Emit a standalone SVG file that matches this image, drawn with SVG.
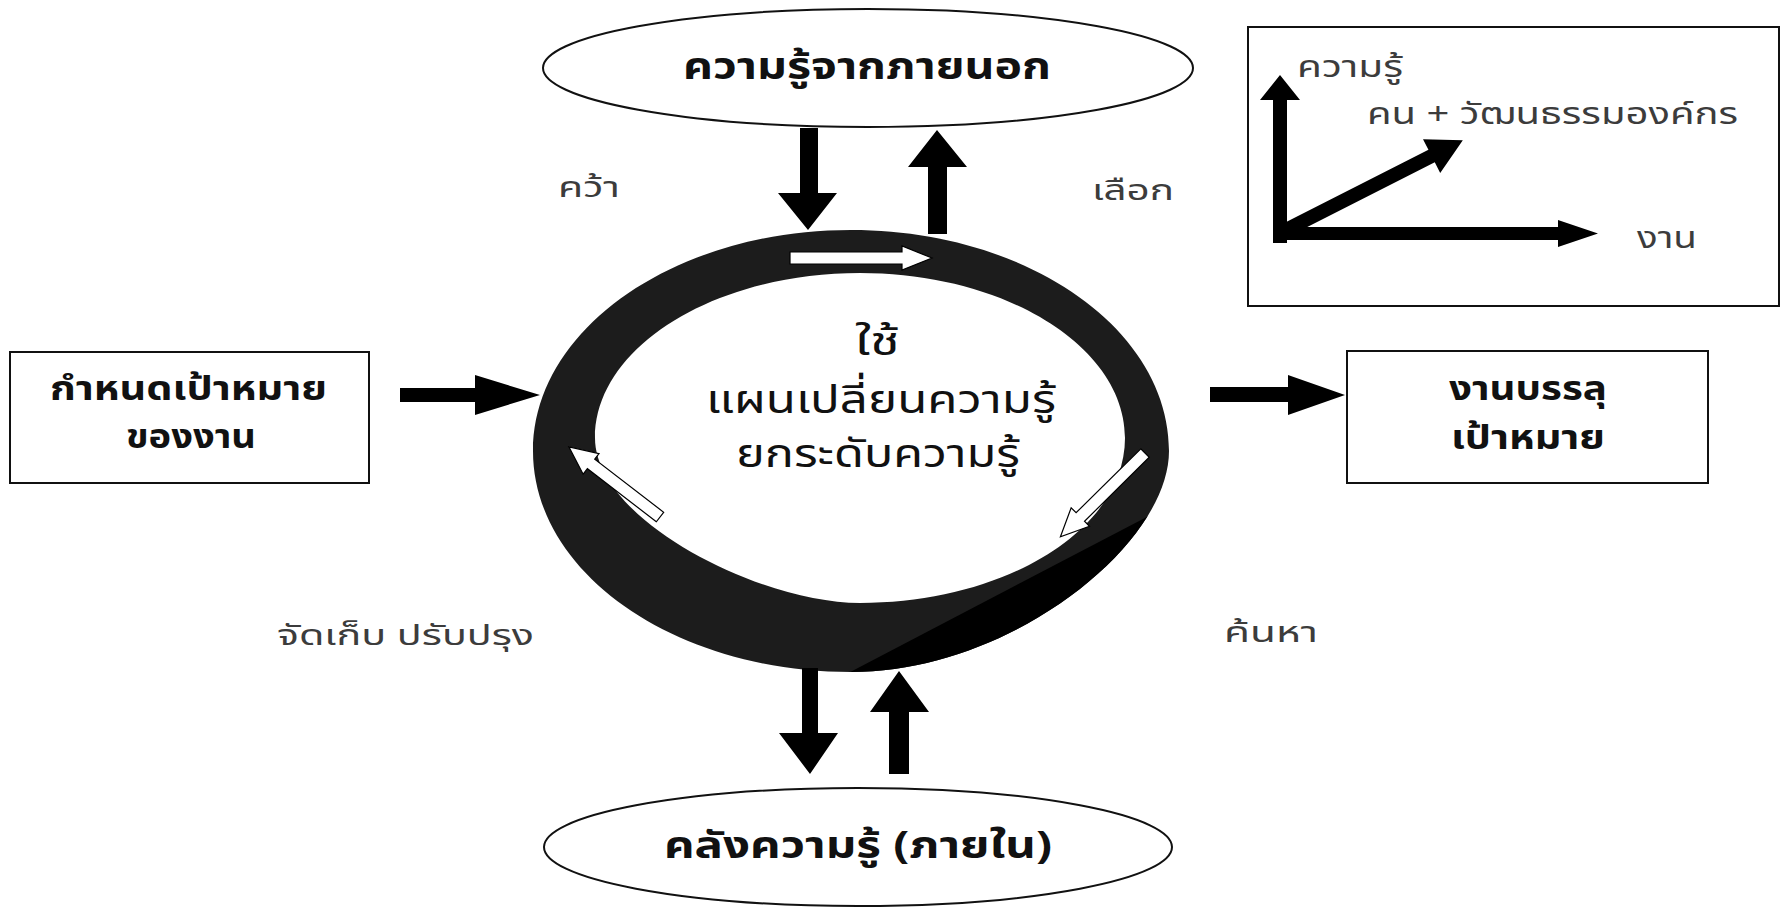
<svg xmlns="http://www.w3.org/2000/svg" width="1783" height="907" viewBox="0 0 1783 907">
<style>
.t{font-family:'Noto Sans Thai','Noto Sans','DejaVu Sans',sans-serif}
.title{font-size:37px;font-weight:bold;fill:#111}
.box{font-size:34px;font-weight:bold;fill:#111}
.mid{font-size:40px;fill:#111}
.lbl{font-size:29px;fill:#3c3c3c}
.ins{font-size:30px;fill:#3c3c3c}
.shape{fill:#fff;stroke:#111;stroke-width:2}
.arr{fill:#000}
.warr{fill:#fff;stroke:#000;stroke-width:1.2}
</style>
<defs>
<path id="ringpath" d="M533,451 C533,329 675,230 851,230 C1027,230 1169,329 1169,451 C1169,545 1010,672 851,672 C675,672 533,573 533,451 Z M595,438 C595,347 714,273 860,273 C1006,273 1125,347 1125,438 C1125,529 1006,603 860,603 C760,603 595,520 595,438 Z"/>
<clipPath id="ringclip">
<use href="#ringpath" clip-rule="evenodd"/>
</clipPath>
</defs>
<rect width="1783" height="907" fill="#fff"/>

<g id="ring">
<use href="#ringpath" fill="#1c1c1c" fill-rule="evenodd"/>
<polygon points="800,720 835,680 1160,510 1200,510 1200,720" fill="#000" clip-path="url(#ringclip)"/>
<polygon class="warr" points="790,252 902,252 902,246 932,258 902,270 902,264 790,264"/>
<polygon class="warr" points="0,-6 87,-6 87,-13 115,0 87,13 87,6 0,6" transform="translate(660,517) rotate(-142.4)"/>
<polygon class="warr" points="0,-6 91,-6 91,-13 119,0 91,13 91,6 0,6" transform="translate(1145,453) rotate(135.3)"/>
<text class="t mid" x="855" y="355" textLength="45" lengthAdjust="spacingAndGlyphs">ใช้</text>
<text class="t mid" x="706" y="413" textLength="350" lengthAdjust="spacingAndGlyphs">แผนเปลี่ยนความรู้</text>
<text class="t mid" x="736" y="467" textLength="284" lengthAdjust="spacingAndGlyphs">ยกระดับความรู้</text>
</g>

<g id="top-ellipse">
<ellipse class="shape" cx="868" cy="68" rx="325" ry="59"/>
<text class="t title" x="683" y="79" textLength="368" lengthAdjust="spacingAndGlyphs">ความรู้จากภายนอก</text>
</g>

<g id="bottom-ellipse">
<ellipse class="shape" cx="858" cy="847" rx="314" ry="59"/>
<text class="t title" x="664" y="858" textLength="388" lengthAdjust="spacingAndGlyphs">คลังความรู้ (ภายใน)</text>
</g>

<g id="left-box">
<rect class="shape" x="10" y="352" width="359" height="131"/>
<text class="t box" x="50" y="400" textLength="277" lengthAdjust="spacingAndGlyphs">กำหนดเป้าหมาย</text>
<text class="t box" x="126" y="448" textLength="130" lengthAdjust="spacingAndGlyphs">ของงาน</text>
</g>

<g id="right-box">
<rect class="shape" x="1347" y="351" width="361" height="132"/>
<text class="t box" x="1449" y="400" textLength="158" lengthAdjust="spacingAndGlyphs">งานบรรลุ</text>
<text class="t box" x="1451" y="449" textLength="154" lengthAdjust="spacingAndGlyphs">เป้าหมาย</text>
</g>

<g id="inset">
<rect class="shape" x="1248" y="27" width="531" height="279"/>
<polygon class="arr" points="1273,243 1273,100 1260,100 1280,75 1300,100 1287,100 1287,243"/>
<polygon class="arr" points="1273,227 1558,227 1558,220 1598,233.5 1558,247 1558,240 1273,240"/>
<polygon class="arr" points="0,-7 170,-7 170,-19 205,0 170,19 170,7 0,7" transform="translate(1280,233) rotate(-26.9)"/>
<text class="t ins" x="1297" y="77" textLength="106" lengthAdjust="spacingAndGlyphs">ความรู้</text>
<text class="t ins" x="1367" y="124" textLength="371" lengthAdjust="spacingAndGlyphs">คน + วัฒนธรรมองค์กร</text>
<text class="t ins" x="1637" y="248" textLength="60" lengthAdjust="spacingAndGlyphs">งาน</text>
</g>

<g id="labels">
<text class="t lbl" x="558" y="197" textLength="62" lengthAdjust="spacingAndGlyphs">คว้า</text>
<text class="t lbl" x="1092" y="200" textLength="82" lengthAdjust="spacingAndGlyphs">เลือก</text>
<text class="t lbl" x="277" y="645" textLength="257" lengthAdjust="spacingAndGlyphs">จัดเก็บ ปรับปรุง</text>
<text class="t lbl" x="1224" y="642" textLength="94" lengthAdjust="spacingAndGlyphs">ค้นหา</text>
</g>

<g id="connectors">
<polygon class="arr" points="800,128 818,128 818,193 837,193 808,230 778,193 800,193"/>
<polygon class="arr" points="928,234 928,167 908,167 937,130 967,167 947,167 947,234"/>
<polygon class="arr" points="400,388 475,388 475,375 540,395 475,415 475,402 400,402"/>
<polygon class="arr" points="1210,387 1288,387 1288,375 1345,395 1288,415 1288,402 1210,402"/>
<polygon class="arr" points="802,668 818,668 818,733 838,733 810,774 779,733 802,733"/>
<polygon class="arr" points="889,774 889,712 870,712 899,671 929,712 909,712 909,774"/>
</g>
</svg>
